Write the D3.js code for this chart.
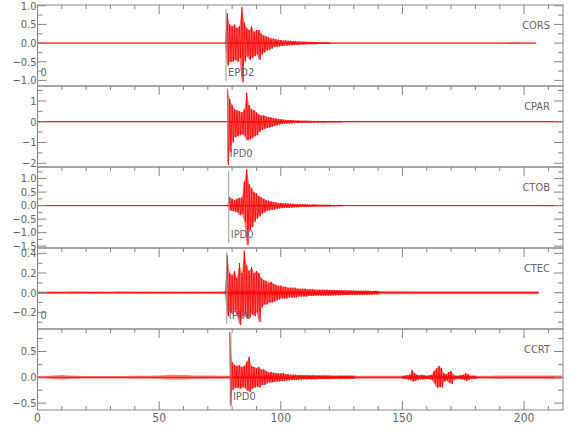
<!DOCTYPE html>
<html><head><meta charset="utf-8">
<script src="https://cdn.jsdelivr.net/npm/d3@7"></script>
<style>
body{margin:0;background:#fff}
text{font-family:"Liberation Sans Narrow","DejaVu Sans Condensed","Arial Narrow",sans-serif;font-stretch:condensed;fill:#666;font-size:11px}
</style>
</head><body><svg id="c" width="580" height="440"></svg>
<script>
// ---------- data ----------
const stations = ["CORS","CPAR","CTOB","CTEC","CCRT"];
const phases   = ["EPD2","IPD0","IPD0","IPD0","IPD0"];
const leftNotes = ["0","","","0",""];
const onsets   = [77.5, 78.2, 78.6, 77.8, 79.5];
const traceEnd = [205, 215.5, 215.5, 206, 215.5];
const yDomains = [[-1.15,1.02],[-2.18,1.72],[-1.57,1.43],[-0.37,0.455],[-0.634,0.936]];
const yMajor   = [[-1,-0.5,0,0.5,1],[-2,-1,0,1],[-1.5,-1,-0.5,0,0.5,1],[-0.2,0,0.2,0.4],[-0.5,0,0.5]];
const yMinorStep = [0.25,0.5,0.25,0.1,0.25];
const yFormat  = [".1f",".0f",".1f",".1f",".1f"];
const xTicks = [0,50,100,150,200];

// background noise amplitude, every 5 s from t = 0
const corsNoise = [0.01,0.01,0.01,0.01,0.01,0.01,0.01,0.01,0.01,0.01,0.01,0.01,0.01,0.01,0.01,0.01,0.01,0.01,0.01,0.01,0.01,0.01,0.01,0.01,0.01,0.01,0.01,0.01,0.01,0.01,0.01,0.01,0.01,0.01,0.01,0.01,0.01,0.01,0.01,0.02,0.01,0.01];
const cparNoise = [0.025,0.025,0.025,0.025,0.025,0.025,0.025,0.025,0.025,0.025,0.025,0.025,0.025,0.025,0.025,0.025,0.03,0.03,0.03,0.03,0.03,0.03,0.03,0.03,0.03,0.028,0.028,0.025,0.025,0.025,0.025,0.025,0.025,0.025,0.025,0.025,0.025,0.025,0.025,0.025,0.025,0.025,0.025,0.025];
const ctobNoise = [0.012,0.012,0.012,0.012,0.012,0.012,0.012,0.012,0.012,0.012,0.012,0.012,0.012,0.012,0.012,0.012,0.02,0.02,0.02,0.02,0.02,0.02,0.02,0.02,0.02,0.018,0.016,0.015,0.015,0.015,0.015,0.015,0.015,0.015,0.015,0.015,0.015,0.015,0.015,0.015,0.015,0.015,0.025,0.015];
const ctecNoise = [0.012,0.013,0.012,0.014,0.012,0.013,0.012,0.014,0.012,0.013,0.012,0.013,0.012,0.013,0.012,0.013,0.02,0.02,0.02,0.02,0.02,0.02,0.02,0.02,0.02,0.02,0.018,0.018,0.016,0.016,0.016,0.015,0.015,0.015,0.015,0.015,0.015,0.015,0.015,0.015,0.015,0.015];
const ccrtNoise = [0.025,0.03,0.045,0.03,0.025,0.025,0.025,0.025,0.03,0.03,0.035,0.05,0.045,0.035,0.035,0.03,0.03,0.03,0.03,0.03,0.03,0.03,0.03,0.03,0.03,0.03,0.03,0.03,0.03,0.03,0.03,0.03,0.03,0.03,0.03,0.03,0.03,0.03,0.035,0.035,0.035,0.035,0.035,0.035];

// active-window envelope, one value per second from the window start
const windowStart = [77, 78, 78, 77, 79];
const corsHi = [0.02,0.80,0.50,0.45,0.50,0.40,0.45,0.96,0.55,0.40,0.35,0.45,0.30,0.35,0.35,0.25,0.20,0.18,0.15,0.12,0.12,0.10,0.09,0.08,0.07,0.07,0.06,0.06,0.05,0.05,0.045,0.04,0.04,0.035,0.03,0.03,0.03,0.03,0.025,0.025,0.025,0.02,0.02,0.02];
const corsLo = [-0.02,-0.60,-0.50,-0.50,-0.45,-0.50,-0.40,-1.05,-0.50,-0.35,-0.45,-0.40,-0.35,-0.30,-0.45,-0.30,-0.25,-0.20,-0.18,-0.15,-0.10,-0.10,-0.09,-0.08,-0.07,-0.07,-0.06,-0.06,-0.05,-0.05,-0.045,-0.04,-0.04,-0.035,-0.03,-0.03,-0.03,-0.03,-0.025,-0.025,-0.025,-0.02,-0.02,-0.02];
const cparHi = [1.60,1.10,0.80,0.60,0.55,0.50,0.45,0.60,1.40,0.80,0.60,0.55,0.45,0.35,0.30,0.30,0.25,0.22,0.20,0.18,0.15,0.13,0.12,0.10,0.09,0.08,0.08,0.07,0.06,0.06,0.05,0.05,0.05,0.045,0.045,0.04,0.04,0.04,0.035,0.035,0.035,0.03,0.03,0.03,0.03,0.03,0.03,0.03];
const cparLo = [-2.08,-1.45,-1.00,-0.75,-0.70,-0.65,-0.60,-0.70,-0.90,-0.85,-0.80,-0.70,-0.65,-0.50,-0.40,-0.35,-0.30,-0.28,-0.25,-0.20,-0.18,-0.15,-0.12,-0.10,-0.09,-0.08,-0.08,-0.07,-0.06,-0.06,-0.05,-0.05,-0.05,-0.045,-0.045,-0.04,-0.04,-0.04,-0.035,-0.035,-0.035,-0.03,-0.03,-0.03,-0.03,-0.03,-0.03,-0.03];
const ctobHi = [0.02,0.32,0.25,0.20,0.25,0.28,0.30,0.90,1.35,0.80,0.65,0.50,0.45,0.35,0.30,0.25,0.20,0.18,0.15,0.13,0.12,0.10,0.10,0.09,0.08,0.08,0.07,0.07,0.06,0.06,0.05,0.05,0.05,0.045,0.04,0.04,0.04,0.035,0.035,0.03,0.03,0.03,0.03,0.025,0.025,0.025,0.025,0.02];
const ctobLo = [-0.02,-0.18,-0.20,-0.22,-0.25,-0.36,-0.30,-0.60,-1.47,-0.90,-0.80,-0.60,-0.48,-0.40,-0.30,-0.25,-0.20,-0.18,-0.15,-0.15,-0.12,-0.10,-0.10,-0.09,-0.08,-0.08,-0.07,-0.07,-0.06,-0.06,-0.05,-0.05,-0.05,-0.045,-0.04,-0.04,-0.04,-0.035,-0.035,-0.03,-0.03,-0.03,-0.03,-0.025,-0.025,-0.025,-0.025,-0.02];
const ctecHi = [0.01,0.38,0.20,0.18,0.22,0.15,0.30,0.20,0.43,0.28,0.22,0.26,0.20,0.22,0.20,0.15,0.13,0.12,0.10,0.11,0.09,0.08,0.07,0.07,0.06,0.06,0.05,0.05,0.05,0.05,0.04,0.04,0.04,0.04,0.035,0.035,0.035,0.03,0.03,0.03,0.03,0.03,0.03,0.028,0.028,0.026,0.026,0.025,0.025,0.024,0.024,0.022,0.022,0.022,0.02,0.02,0.02,0.02,0.02,0.02,0.018,0.018,0.018,0.018];
const ctecLo = [-0.01,-0.24,-0.20,-0.22,-0.18,-0.24,-0.33,-0.25,-0.22,-0.26,-0.25,-0.22,-0.24,-0.20,-0.30,-0.15,-0.12,-0.12,-0.10,-0.10,-0.09,-0.08,-0.07,-0.06,-0.06,-0.06,-0.05,-0.05,-0.05,-0.05,-0.04,-0.04,-0.04,-0.04,-0.035,-0.035,-0.035,-0.03,-0.03,-0.03,-0.03,-0.03,-0.03,-0.028,-0.028,-0.026,-0.026,-0.025,-0.025,-0.024,-0.024,-0.022,-0.022,-0.022,-0.02,-0.02,-0.02,-0.02,-0.02,-0.02,-0.018,-0.018,-0.018,-0.018];
const ccrtHi = [0.88,0.30,0.24,0.22,0.24,0.20,0.22,0.30,0.40,0.22,0.20,0.18,0.20,0.15,0.15,0.12,0.10,0.10,0.09,0.08,0.08,0.07,0.08,0.06,0.06,0.05,0.05,0.05,0.045,0.045,0.04,0.04,0.04,0.04,0.04,0.04,0.035,0.035,0.035,0.035,0.035,0.035,0.03,0.03,0.03,0.03,0.03,0.03,0.03,0.03,0.03,0.03];
const ccrtLo = [-0.55,-0.25,-0.21,-0.20,-0.22,-0.20,-0.20,-0.25,-0.28,-0.22,-0.20,-0.18,-0.20,-0.15,-0.15,-0.12,-0.10,-0.10,-0.09,-0.08,-0.08,-0.07,-0.07,-0.06,-0.06,-0.05,-0.05,-0.05,-0.045,-0.045,-0.04,-0.04,-0.04,-0.04,-0.04,-0.04,-0.035,-0.035,-0.035,-0.035,-0.035,-0.035,-0.03,-0.03,-0.03,-0.03,-0.03,-0.03,-0.03,-0.03,-0.03,-0.03];
// CCRT late bursts, one value per second from t = 150
const ccrtBurstStart = 150;
const ccrtBurstHi = [0.03,0.03,0.04,0.05,0.14,0.08,0.05,0.04,0.05,0.04,0.03,0.04,0.05,0.12,0.17,0.22,0.18,0.08,0.06,0.10,0.12,0.05,0.03,0.03,0.04,0.05,0.08,0.06,0.03,0.03,0.03];
const ccrtBurstLo = [-0.03,-0.03,-0.04,-0.05,-0.08,-0.07,-0.05,-0.04,-0.04,-0.04,-0.03,-0.04,-0.05,-0.12,-0.20,-0.19,-0.20,-0.08,-0.06,-0.10,-0.13,-0.05,-0.03,-0.03,-0.04,-0.05,-0.07,-0.05,-0.03,-0.03,-0.03];

const noises = [corsNoise, cparNoise, ctobNoise, ctecNoise, ccrtNoise];
const windows = [
  [{start: windowStart[0], hi: corsHi, lo: corsLo}],
  [{start: windowStart[1], hi: cparHi, lo: cparLo}],
  [{start: windowStart[2], hi: ctobHi, lo: ctobLo}],
  [{start: windowStart[3], hi: ctecHi, lo: ctecLo}],
  [{start: windowStart[4], hi: ccrtHi, lo: ccrtLo}, {start: ccrtBurstStart, hi: ccrtBurstHi, lo: ccrtBurstLo}]
];

// ---------- layout ----------
const L = 37.5, R = 563, top0 = 5, panelH = 81;
const svg = d3.select("#c");
const x = d3.scaleLinear().domain([0, 216]).range([L, R]);
const frame = "#858585", red = "#ff0000";

stations.forEach((st, i) => {
  const t = top0 + i * panelH, b = t + panelH;
  const y = d3.scaleLinear().domain(yDomains[i]).range([b, t]);
  const g = svg.append("g");

  // background noise band + zero trace
  const nz = noises[i].map((v, k) => ({t: k * 5, v})).filter(d => d.t <= traceEnd[i]);
  nz.push({t: traceEnd[i], v: noises[i][noises[i].length - 1]});
  g.append("path").datum(nz)
    .attr("d", d3.area().x(d => x(d.t)).y0(d => y(-d.v)).y1(d => y(d.v)))
    .attr("fill", "#ff4040").attr("fill-opacity", 0.7);
  g.append("line").attr("x1", x(0)).attr("x2", x(traceEnd[i]))
    .attr("y1", y(0)).attr("y2", y(0)).attr("stroke", red).attr("stroke-width", 1);

  // active windows: filled envelope plus oscillating outline
  windows[i].forEach(w => {
    const n = Math.min(w.hi.length, w.lo.length);
    const env = d3.range(n).map(k => ({t: w.start + k, hi: w.hi[k], lo: w.lo[k]}));
    g.append("path").datum(env)
      .attr("d", d3.area().x(d => x(d.t)).y0(d => y(d.lo)).y1(d => y(d.hi)))
      .attr("fill", red).attr("fill-opacity", 0.55);
    const pts = [];
    env.forEach(d => { pts.push([d.t, d.hi]); pts.push([d.t + 0.5, d.lo]); });
    g.append("path").datum(pts)
      .attr("d", d3.line().x(d => x(d[0])).y(d => y(d[1])))
      .attr("fill", "none").attr("stroke", red).attr("stroke-width", 0.8);
  });

  // phase marker
  g.append("line").attr("x1", x(onsets[i])).attr("x2", x(onsets[i]))
    .attr("y1", t + 4).attr("y2", b - 5).attr("stroke", "#999").attr("stroke-width", 1);
  g.append("text").attr("x", x(onsets[i]) + 2).attr("y", t + 71).text(phases[i]);
  if (leftNotes[i]) g.append("text").attr("x", L + 3).attr("y", t + 71).text(leftNotes[i]);
  g.append("text").attr("x", 550).attr("y", t + 24).attr("text-anchor", "end").text(st);

  // frame
  g.append("rect").attr("x", L).attr("y", t).attr("width", R - L).attr("height", panelH)
    .attr("fill", "none").attr("stroke", frame).attr("stroke-width", 1);

  // y ticks (both sides, inward)
  const [d0, d1] = yDomains[i], st2 = yMinorStep[i];
  const minor = d3.range(Math.ceil(d0 / st2 - 1e-9), Math.floor(d1 / st2 + 1e-9) + 1).map(k => +(k * st2).toFixed(4));
  minor.forEach(v => {
    const major = yMajor[i].some(m => Math.abs(m - v) < 1e-6);
    const len = major ? 9 : 5;
    g.append("line").attr("x1", L).attr("x2", L + len).attr("y1", y(v)).attr("y2", y(v)).attr("stroke", frame);
    g.append("line").attr("x1", R).attr("x2", R - len).attr("y1", y(v)).attr("y2", y(v)).attr("stroke", frame);
  });
  const fmt = d3.format(yFormat[i]);
  yMajor[i].forEach(v => {
    g.append("text").attr("x", L - 1).attr("y", y(v)).attr("dy", "0.35em")
      .attr("text-anchor", "end").text(fmt(v));
  });

  // x ticks on top edge (pointing down)
  d3.range(0, 216, 10).forEach(v => {
    const len = v % 50 === 0 ? 9 : 4;
    g.append("line").attr("x1", x(v)).attr("x2", x(v)).attr("y1", t).attr("y2", t + len).attr("stroke", frame);
    if (i === stations.length - 1)
      g.append("line").attr("x1", x(v)).attr("x2", x(v)).attr("y1", b).attr("y2", b - len).attr("stroke", frame);
  });
});

// x tick labels
const bottom = top0 + stations.length * panelH;
xTicks.forEach(v => {
  svg.append("text").attr("x", x(v)).attr("y", bottom + 12).attr("text-anchor", "middle")
    .style("font-size", "12px").text(v);
});
</script>
</body></html>
